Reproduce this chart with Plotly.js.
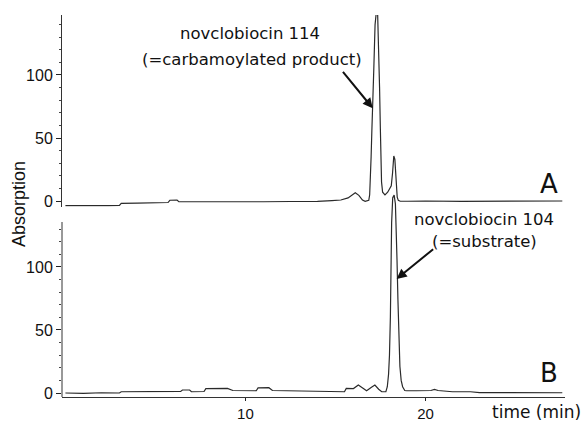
<!DOCTYPE html>
<html>
<head>
<meta charset="utf-8">
<script src="https://cdn.plot.ly/plotly-3.0.1.min.js"></script>
<style>html,body{margin:0;padding:0;background:#fff;}#chart{width:584px;height:421px;}</style>
</head>
<body>
<div id="chart"></div>
<script>
// Trace A (top panel): time (min) and absorption
const timeA = [0.0, 0.8, 1.6, 2.4, 3.0, 3.1, 4.0, 5.0, 5.7, 5.8, 6.2, 6.3, 7.5, 9.0, 11.0, 12.5, 13.5, 14.0, 14.8, 15.3, 15.7, 16.0, 16.1, 16.3, 16.5, 16.65, 16.8, 16.85, 16.9, 16.94, 16.98, 17.02, 17.07, 17.13, 17.2, 17.27, 17.34, 17.4, 17.45, 17.49, 17.52, 17.56, 17.62, 17.75, 17.9, 18.0, 18.1, 18.17, 18.24, 18.3, 18.36, 18.43, 18.49, 18.6, 19.0, 20.0, 22.0, 24.0, 26.0, 27.6];
const absA  = [-3.6, -3.8, -3.5, -3.7, -3.5, -1.9, -1.7, -1.6, -1.2, 0.6, 0.7, -0.6, -0.7, -0.5, -0.6, -0.4, -0.5, -0.3, 0.3, 0.8, 2.5, 6.0, 6.6, 4.5, 0.8, -0.3, 0.2, 0.5, 5, 15, 35, 55, 72, 105, 140, 150, 150, 125, 90, 60, 38, 15, 7, 4.8, 7, 9.3, 12, 22, 35.7, 33, 15, 3, 0.5, -0.2, -0.2, 0.0, -0.3, 0.0, -0.2, 0.0];

// Trace B (bottom panel)
const timeB = [0.0, 1.0, 2.0, 3.0, 3.1, 4.5, 5.5, 6.4, 6.5, 6.9, 7.0, 7.7, 7.8, 8.5, 9.0, 9.3, 10.6, 10.7, 11.3, 11.5, 12.5, 13.5, 14.5, 15.5, 15.6, 16.0, 16.27, 16.5, 16.73, 17.0, 17.19, 17.4, 17.57, 17.8, 17.88, 17.95, 18.0, 18.05, 18.08, 18.12, 18.18, 18.26, 18.33, 18.38, 18.42, 18.47, 18.53, 18.58, 18.65, 18.73, 18.85, 18.95, 19.5, 20.3, 20.5, 20.7, 21.5, 22.5, 23.0, 24.0, 26.0, 27.6];
const absB  = [0.0, -0.3, 0.2, 0.0, 1.0, 1.2, 1.0, 1.3, 2.4, 2.4, 1.0, 1.2, 3.5, 3.8, 3.7, 2.0, 1.8, 4.0, 4.2, 2.0, 1.8, 1.5, 1.0, 1.0, 3.7, 3.5, 6.3, 4.0, 1.8, 4.5, 6.3, 3.0, 1.0, 1.0, 5, 15, 30, 60, 100, 135, 155, 157, 150, 130, 105, 74, 40, 21, 10, 5, 2, 1.8, 1.8, 2.0, 2.9, 2.0, 1.0, 1.0, 0.3, 0.2, 0.3, 0.2];

const yTicks = [0, 50, 100];
const yMinorA = [10, 20, 30, 40, 60, 70, 80, 90, 110, 120, 130, 140];
const yMinorB = [10, 20, 30, 40, 60, 70, 80, 90, 110, 120, 130];
const xTicks = [10, 20];
const panelLabels = ['A', 'B'];
const peakLabelsA = ['novclobiocin 114', '(=carbamoylated product)'];
const peakLabelsB = ['novclobiocin 104', '(=substrate)'];

const lineStyle = {color: '#2a2a2a', width: 1.2};
const tickFont = {family: 'Liberation Sans, Arial, sans-serif', size: 16, color: '#111'};
const xTickFont = {family: 'Liberation Sans, Arial, sans-serif', size: 15, color: '#111'};
const annFont = {family: 'DejaVu Sans, sans-serif', size: 16.5, color: '#111'};

const traces = [
  {x: timeA, y: absA, xaxis: 'x', yaxis: 'y', type: 'scatter', mode: 'lines', line: lineStyle, hoverinfo: 'skip'},
  {x: timeB, y: absB, xaxis: 'x', yaxis: 'y2', type: 'scatter', mode: 'lines', line: lineStyle, hoverinfo: 'skip'}
];

const yCommon = {
  anchor: 'x', zeroline: false, showgrid: false, ticks: 'outside', ticklen: 5, tickwidth: 1,
  tickcolor: '#222', tickmode: 'array', tickvals: yTicks, tickfont: tickFont, linecolor: '#333', linewidth: 1
};

const layout = {
  width: 584, height: 421,
  margin: {l: 62, r: 19, t: 15, b: 24},
  paper_bgcolor: '#fff', plot_bgcolor: 'rgba(0,0,0,0)',
  showlegend: false,
  xaxis: {
    anchor: 'y2', range: [-0.19, 27.75], zeroline: false, showgrid: false,
    showline: true, linecolor: '#333', linewidth: 1,
    ticks: 'outside', ticklen: 3, tickcolor: '#222', tickmode: 'array', tickvals: xTicks,
    tickfont: xTickFont
  },
  yaxis: Object.assign({}, yCommon, {
    domain: [0.4982, 1], range: [-4.5, 147.6], showline: true,
    minor: {tickmode: 'array', tickvals: yMinorA, ticks: 'outside', ticklen: 2.5, tickcolor: '#444'}
  }),
  yaxis2: Object.assign({}, yCommon, {
    domain: [0, 0.5419], range: [-3.17, 161.1], showline: false,
    minor: {tickmode: 'array', tickvals: yMinorB, ticks: 'outside', ticklen: 2.5, tickcolor: '#444'}
  }),
  shapes: [
    {type: 'line', xref: 'paper', yref: 'y2', x0: 0, x1: 0, y0: -3.17, y1: 135.7, line: {color: '#333', width: 1}}
  ],
  annotations: [
    {xref: 'paper', yref: 'paper', x: 0.3738, y: 0.9503, text: peakLabelsA[0], showarrow: false, font: annFont, xanchor: 'center', yanchor: 'middle'},
    {xref: 'paper', yref: 'paper', x: 0.3777, y: 0.8835, text: peakLabelsA[1], showarrow: false, font: annFont, xanchor: 'center', yanchor: 'middle'},
    {xref: 'paper', yref: 'paper', x: 0.839, y: 0.4634, text: peakLabelsB[0], showarrow: false, font: annFont, xanchor: 'center', yanchor: 'middle'},
    {xref: 'paper', yref: 'paper', x: 0.840, y: 0.4071, text: peakLabelsB[1], showarrow: false, font: annFont, xanchor: 'center', yanchor: 'middle'},
    {xref: 'x', yref: 'y', x: 17.07, y: 73.6, ax: -31, ay: -38, text: '', showarrow: true, arrowhead: 2, arrowsize: 1, arrowwidth: 2, arrowcolor: '#111', standoff: 0},
    {xref: 'x', yref: 'y2', x: 18.4, y: 90.5, ax: 38, ay: -31, text: '', showarrow: true, arrowhead: 2, arrowsize: 1, arrowwidth: 2, arrowcolor: '#111', standoff: 0},
    {xref: 'paper', yref: 'paper', x: 0.9682, y: 0.5576, text: panelLabels[0], showarrow: false, font: {family: 'DejaVu Sans, sans-serif', size: 26, color: '#111'}, xanchor: 'center', yanchor: 'middle'},
    {xref: 'paper', yref: 'paper', x: 0.9672, y: 0.0641, text: panelLabels[1], showarrow: false, font: {family: 'DejaVu Sans, sans-serif', size: 26, color: '#111'}, xanchor: 'center', yanchor: 'middle'},
    {xref: 'paper', yref: 'paper', x: 0.9443, y: -0.0393, text: 'time (min)', showarrow: false, font: {family: 'DejaVu Sans, sans-serif', size: 17, color: '#111'}, xanchor: 'center', yanchor: 'middle'},
    {xref: 'paper', yref: 'paper', x: -0.0865, y: 0.5065, text: 'Absorption', textangle: -90, showarrow: false, font: {family: 'Liberation Sans, Arial, sans-serif', size: 18, color: '#111'}, xanchor: 'center', yanchor: 'middle'}
  ]
};

Plotly.newPlot('chart', traces, layout, {staticPlot: true, displayModeBar: false});
</script>
</body>
</html>
